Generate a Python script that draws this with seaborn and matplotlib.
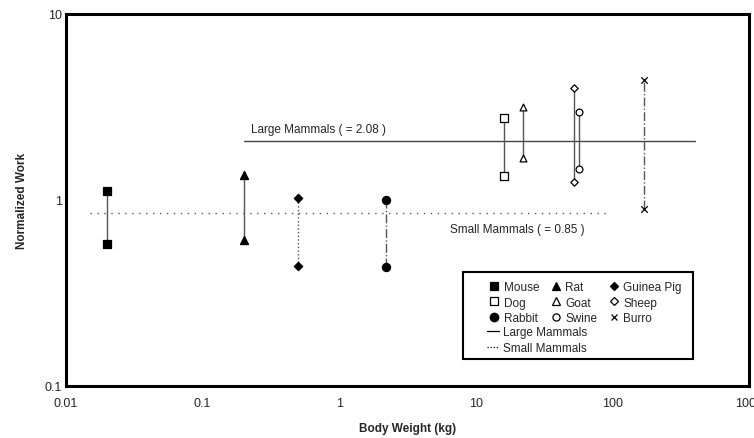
import pandas as pd
import matplotlib
matplotlib.use('Agg')
import matplotlib.pyplot as plt
import seaborn as sns
from matplotlib.lines import Line2D
from matplotlib.patches import Rectangle
from matplotlib.ticker import FixedLocator, FixedFormatter, LogLocator, NullFormatter

# Data
species = ['Mouse', 'Rat', 'Guinea Pig', 'Rabbit', 'Dog', 'Goat', 'Sheep', 'Swine', 'Burro']
weight = [0.02, 0.2, 0.5, 2.2, 16, 22, 52, 57, 170]
work_high = [1.12, 1.36, 1.03, 1.0, 2.77, 3.17, 4.0, 2.98, 4.4]
work_low = [0.58, 0.61, 0.44, 0.435, 1.35, 1.68, 1.25, 1.47, 0.89]

large_mean = 2.08
large_span = [0.2, 400]
small_mean = 0.85
small_span = [0.015, 95]

x_ticks = [0.01, 0.1, 1, 10, 100, 1000]
x_labels = ['0.01', '0.1', '1', '10', '100', '1000']
y_ticks = [0.1, 1, 10]
y_labels = ['0.1', '1', '10']

# marker, filled, size, vertical line style
styles = {
    'Mouse': ('s', True, 34, '-'),
    'Rat': ('^', True, 34, '-'),
    'Guinea Pig': ('D', True, 18, ':'),
    'Rabbit': ('o', True, 34, '-.'),
    'Dog': ('s', False, 26, '-'),
    'Goat': ('^', False, 24, '-'),
    'Sheep': ('D', False, 14, '-'),
    'Swine': ('o', False, 24, '-'),
    'Burro': ('x', False, 22, '-.'),
}

df = pd.DataFrame({'species': species * 2,
                   'weight': weight * 2,
                   'work': work_high + work_low})

sns.set_theme(style='white')
plt.rcParams['font.family'] = ['Liberation Sans', 'DejaVu Sans']

fig = plt.figure(figsize=(7.54, 4.39), dpi=100)
ax = fig.add_axes([0.0875, 0.1185, 0.906, 0.8475])

# vertical ranges
for sp, w, hi, lo in zip(species, weight, work_high, work_low):
    ax.vlines(w, lo, hi, colors='#555555', linestyles=styles[sp][3], linewidth=1.0, zorder=2)

# mean lines
ax.plot(large_span, [large_mean, large_mean], color='#444444', linewidth=1.0, zorder=1)
ax.plot(small_span, [small_mean, small_mean], color='#555555', linewidth=1.0,
        linestyle=(0, (1, 4)), zorder=1)

# markers
for sp in species:
    m, filled, s, _ = styles[sp]
    sub = df[df['species'] == sp]
    if m == 'x':
        sns.scatterplot(data=sub, x='weight', y='work', marker='x', s=s, color='black',
                        linewidth=0.9, ax=ax, zorder=3, legend=False)
    else:
        sns.scatterplot(data=sub, x='weight', y='work', marker=m, s=s,
                        facecolor='black' if filled else 'white', edgecolor='black',
                        linewidth=0.9, ax=ax, zorder=3, legend=False)

ax.set_xscale('log')
ax.set_yscale('log')
ax.set_xlim(0.01, 1000)
ax.set_ylim(0.1, 10)
ax.xaxis.set_major_locator(FixedLocator(x_ticks))
ax.xaxis.set_major_formatter(FixedFormatter(x_labels))
ax.yaxis.set_major_locator(FixedLocator(y_ticks))
ax.yaxis.set_major_formatter(FixedFormatter(y_labels))
ax.xaxis.set_minor_locator(LogLocator(base=10, subs=range(2, 10)))
ax.yaxis.set_minor_locator(LogLocator(base=10, subs=range(2, 10)))
ax.xaxis.set_minor_formatter(NullFormatter())
ax.yaxis.set_minor_formatter(NullFormatter())
ax.tick_params(which='both', direction='in', color='black', labelsize=9, pad=3)
ax.tick_params(axis='x', which='major', pad=8)
ax.tick_params(which='major', length=4, width=1)
ax.tick_params(which='minor', length=2.5, width=0.8)

for spine in ax.spines.values():
    spine.set_color('black')
    spine.set_linewidth(2.2)

ax.set_xlabel('Body Weight (kg)', fontsize=8.5, fontweight='bold', labelpad=9)
ax.set_ylabel('Normalized Work', fontsize=8.5, fontweight='bold', labelpad=12)

ax.text(0.7, 2.4, 'Large Mammals ( = 2.08 )', fontsize=8.5, ha='center', va='center')
ax.text(20, 0.70, 'Small Mammals ( = 0.85 )', fontsize=8.5, ha='center', va='center')

# legend box
ax.add_patch(Rectangle((0.581, 0.073), 0.337, 0.233, transform=ax.transAxes,
                       facecolor='white', edgecolor='black', linewidth=1.5, zorder=4))

handles = []
for sp in ['Mouse', 'Dog', 'Rabbit', 'Rat', 'Goat', 'Swine', 'Guinea Pig', 'Sheep', 'Burro']:
    m, filled, s, _ = styles[sp]
    handles.append(Line2D([], [], linestyle='none', marker=m,
                          markersize=(s ** 0.5) * 1.05,
                          markerfacecolor='black' if filled else 'white',
                          markeredgecolor='black', markeredgewidth=0.9, label=sp))
leg1 = ax.legend(handles=handles, ncol=3, loc='upper left', bbox_to_anchor=(0.62, 0.282),
                 frameon=False, fontsize=8.5, handlelength=0.8, handletextpad=0.4,
                 columnspacing=1.0, labelspacing=0.3, borderpad=0, borderaxespad=0)
leg1.set_zorder(5)
ax.add_artist(leg1)

line_handles = [Line2D([], [], color='black', linewidth=0.9, label='Large Mammals'),
                Line2D([], [], color='black', linewidth=0.9, linestyle=(0, (1, 1.5)),
                       label='Small Mammals')]
leg2 = ax.legend(handles=line_handles, loc='upper left', bbox_to_anchor=(0.616, 0.16),
                 frameon=False, fontsize=8.5, handlelength=1.0, handletextpad=0.4,
                 labelspacing=0.3, borderpad=0, borderaxespad=0)
leg2.set_zorder(5)

fig.savefig('out.png', dpi=100)
